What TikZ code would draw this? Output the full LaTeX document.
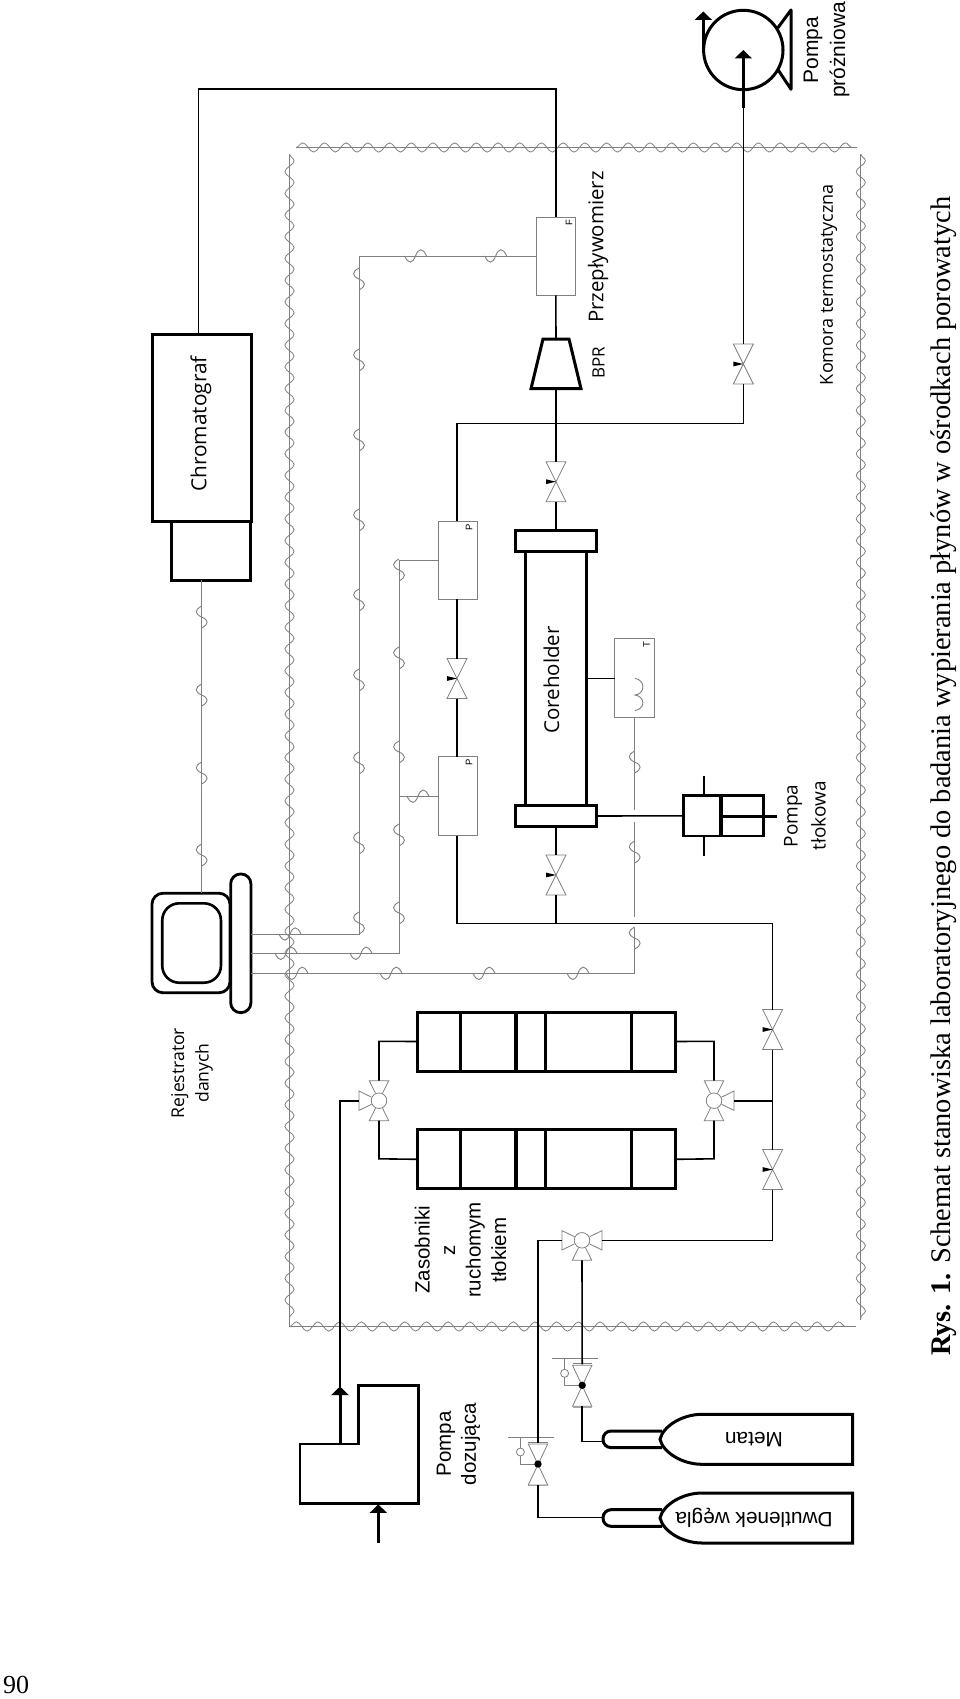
\documentclass[tikz,border=0pt]{standalone}
\usepackage{fontspec}
\setmainfont{Liberation Serif}
\newfontfamily\arial{Liberation Sans}
\newfontfamily\osans{Open Sans}
\usetikzlibrary{arrows.meta,decorations.pathmorphing,calc}
\definecolor{sig}{gray}{0.5}
\definecolor{vgray}{gray}{0.5}
\tikzset{
  pipe/.style={draw=black,line width=1.6pt},
  signal/.style={draw=sig,line width=0.9pt},
  heavy/.style={draw=black,line width=3pt},
  vline/.style={draw=vgray,line width=0.8pt,line join=miter},
  wavy/.style={draw=sig,line width=0.8pt,decorate,decoration={snake,segment length=21.7pt,amplitude=4.6pt,post length=0pt}},
  box/.style={rectangle,draw=sig,line width=0.8pt,inner sep=0pt,outer sep=0pt},
  hbox/.style={rectangle,heavy,inner sep=0pt,outer sep=0pt},
  vbody/.style={rectangle,inner sep=0pt,outer sep=0pt,minimum width=20pt,minimum height=40pt},
  bigarrow/.style={-{Triangle[length=8.5pt,width=17pt]},draw=black,line width=3pt},
  tos/.style={font=\osans\fontsize{#1}{#1}\selectfont,inner sep=0pt},
  tar/.style={font=\arial\fontsize{#1}{#1}\selectfont,inner sep=0pt},
}
\newcommand\valve[3]{%
  \node[vbody] (#1) at (#2,#3) {};
  \draw[vline] (#2-10,#3-20) -- (#2+10,#3-20) -- (#2-10,#3+20) -- (#2+10,#3+20) -- cycle;
  \fill[black] (#2,#3) -- (#2-10,#3-2.4) -- (#2-10,#3+2.4) -- cycle;
}
\newcommand\tway[4]{%
  \node[circle,vline,minimum size=15.5pt,inner sep=0pt,outer sep=0pt] (#1) at (#2,#3) {};
  \coordinate (#1-N) at (#2,#3-20);
  \coordinate (#1-S) at (#2,#3+20);
  \coordinate (#1-W) at (#2-20,#3);
  \coordinate (#1-E) at (#2+20,#3);
  \foreach \a in {#4} {
    \begin{scope}[shift={(#2,#3)},rotate=\a]
      \draw[vline] (7.6,-3.6) -- (20,-9.7) -- (20,9.7) -- (7.6,3.6);
    \end{scope}
  }
}
\newcommand\regul[3]{%
  \node[vbody,minimum height=42pt] (#1) at (#2,#3) {};
  \draw[vline] (#2-9.7,#3-20) -- (#2+9.7,#3-20) -- (#2-9.7,#3+21) -- (#2+9.7,#3+21) -- cycle;
  \draw[vline] (#2-9.7,#3-22) -- (#2+9.7,#3-22);
  \draw[draw=gray!70,line width=1.6pt] (#2-9.7,#3+21.5) -- (#2+9.7,#3+21.5);
  \draw[vline] (#2-30,#3-27) -- (#2+16,#3-27);
  \draw[vline] (#2-17.6,#3-27) -- (#2-17.6,#3-16);
  \draw[vline] (#2-17.6,#3-12) circle (4);
  \draw[vline] (#2-17.6,#3-8) -- (#2-17.6,#3) -- (#2,#3);
  \fill[black] (#2,#3) circle (3.7);
}
\newcommand\hbump[2]{\draw[signal] (#1-11,#2) .. controls (#1-7,#2+8.5) and (#1-3,#2+8) .. (#1,#2) .. controls (#1+3,#2-8) and (#1+7,#2-8.5) .. (#1+11,#2);}
\newcommand\vbump[2]{\draw[signal] (#1,#2-11) .. controls (#1-7.5,#2-7) and (#1-7,#2-3) .. (#1,#2) .. controls (#1+7,#2+3) and (#1+7.5,#2+7) .. (#1,#2+11);}
\newcommand\bottle[4]{%
  \coordinate (#1) at (603,#3);
  \draw[heavy,rounded corners=8pt] (662,#2-8.3) -- (603,#2-8.3) -- (603,#2+8.3) -- (662,#2+8.3);
  \draw[heavy,fill=white,line join=miter] (852.5,#2-25) -- (702,#2-25) .. controls (682,#2-25) and (663,#2-13) .. (660,#2) .. controls (663,#2+13) and (682,#2+25) .. (702,#2+25) -- (852.5,#2+25) -- cycle;
  \node[tar=20.8,rotate=180] (#1txt) at (754,#2) {#4};
}
\newcommand\tank[2]{%
  \node[hbox,minimum width=257.7pt,minimum height=59pt] (#1) at (546.2,#2) {};
  \foreach \xx/\ww in {460.6/2.6,516/3.4,545.5/3.4,631.6/3} {\draw[draw=black,line width=\ww pt] (\xx,#2-29.5) -- (\xx,#2+29.5);}
}
\begin{document}
\begin{tikzpicture}[x=1pt,y=-1pt]
\useasboundingbox (0,0) rectangle (960,1699);
\fill[white] (0,0) rectangle (960,1699);

%% thermostatic chamber
\coordinate (chTL) at (296,147.5);
\coordinate (chTR) at (857,147.5);
\coordinate (chLT) at (289.5,154);
\coordinate (chLB) at (289.5,1326.5);
\coordinate (chBR) at (855.5,1326.5);
\coordinate (chRT) at (860.8,154);
\coordinate (chRB) at (860.8,1320);
\draw[signal,line width=0.8pt] (chTL) -- (chTR);
\draw[wavy] (chTL) -- (chTR);
\draw[signal,line width=0.8pt] (chLT) -- (chLB) -- (chBR);
\draw[wavy] (chLT) -- (chLB);
\draw[wavy] (chLB) -- (chBR);
\draw[signal,line width=0.8pt] (chRT) -- (chRB);
\draw[wavy] (chRT) -- (chRB);

%% instruments
\node[hbox,minimum width=99pt,minimum height=187pt] (Chrom) at (201.5,427.5) {};
\node[hbox,minimum width=79.5pt,minimum height=59pt] (ChromB) at (211.2,550.5) {};
\node[tos=20.8,rotate=90] (tChrom) at (201,424) {Chromatograf};
\node[box,minimum width=39.5pt,minimum height=78.5pt] (F) at (555.8,256.2) {};
\node[tar=9.5,rotate=90] (tF) at (569,222.5) {F};
\node[box,minimum width=39pt,minimum height=78.5pt] (P1) at (457.5,560.2) {};
\node[tar=9.5,rotate=90] (tP1) at (469,527) {P};
\node[box,minimum width=39pt,minimum height=79pt] (P2) at (457.5,796.2) {};
\node[tar=9.5,rotate=90] (tP2) at (469,762.5) {P};
\node[box,minimum width=40pt,minimum height=79pt] (T) at (634.7,677.8) {};
\node[tar=9.5,rotate=90] (tT) at (646.7,644.3) {T};
\draw[draw=sig,line width=0.9pt] (635,678.3) .. controls (645.5,680) and (645.5,694) .. (635,695) .. controls (645.5,696.5) and (645.5,709) .. (635,710.5);

%% BPR
\coordinate (BPRt) at (556,339);
\coordinate (BPRb) at (556,389);
\draw[draw=black,line width=3pt,line join=miter] (543,339) -- (569,339) -- (581,388.7) -- (531,388.7) -- cycle;
\draw[draw=black,line width=1.5pt] (543,338.5) -- (569,338.5);

%% coreholder
\node[hbox,minimum width=81pt,minimum height=21pt] (CapT) at (556,540.5) {};
\node[hbox,minimum width=81pt,minimum height=21pt] (CapB) at (556,815.5) {};
\draw[heavy] (525.5,551) -- (525.5,805);
\draw[heavy] (586.3,551) -- (586.3,805);
\node[tos=20.5,rotate=90] (tCore) at (551.4,680) {Coreholder};

%% piston pump
\node[rectangle,draw=black,line width=2.6pt,minimum width=79.7pt,minimum height=40.3pt,inner sep=0pt,outer sep=0pt] (PP) at (723.5,815.8) {};
\draw[draw=black,line width=4pt] (721.3,795.7) -- (721.3,836);
\draw[draw=black,line width=3pt] (721.3,816) -- (776.5,816);
\draw[draw=black,line width=2.4pt] (703.8,775.7) -- (703.8,795.7);
\draw[draw=black,line width=2.4pt] (703.8,836) -- (703.8,856);

%% computer
\node[rectangle,draw=black,line width=2.8pt,rounded corners=11pt,minimum width=78pt,minimum height=99.5pt,inner sep=0pt,outer sep=0pt] (Mon) at (191,943) {};
\node[rectangle,draw=black,line width=2.6pt,rounded corners=17pt,minimum width=58.7pt,minimum height=79.4pt,inner sep=0pt,outer sep=0pt] (Scr) at (191.6,943) {};
\node[rectangle,draw=black,line width=2.8pt,rounded corners=10pt,minimum width=20.3pt,minimum height=138.7pt,inner sep=0pt,outer sep=0pt] (Stand) at (240.8,943.3) {};
\coordinate (st1) at (251,934);
\coordinate (st2) at (251,953.3);
\coordinate (st3) at (251,973.3);

%% tanks
\tank{TankA}{1041.5}
\tank{TankB}{1159.3}

%% valves
\valve{vOut}{556}{481.7}
\valve{vIn}{556}{875}
\valve{vP}{457}{678.5}
\valve{vVac}{743.3}{364}
\valve{vFeed}{772.6}{1029.5}
\valve{vGas}{772.6}{1169.5}
\tway{twR}{714}{1100.7}{0,90,270}
\tway{twL}{379}{1100.7}{90,180,270}
\tway{twG}{582}{1240.3}{0,180,270}
\regul{rM}{582.2}{1385.3}
\regul{rD}{538}{1464}

%% dosing pump
\coordinate (dozOut) at (340,1444);
\coordinate (dozTip) at (340,1386.5);
\coordinate (dozInA) at (378.3,1543.4);
\coordinate (dozInB) at (378.3,1504.4);
\draw[draw=black,line width=2.8pt,line join=miter] (300,1444) -- (358.8,1444) -- (358.8,1385.4) -- (418.1,1385.4) -- (418.1,1503.3) -- (300,1503.3) -- cycle;
\draw[bigarrow] (dozOut) -- (dozTip);
\draw[bigarrow] (dozInA) -- (dozInB);

%% vacuum pump
\node[circle,draw=black,line width=3pt,minimum size=79.4pt,inner sep=0pt,outer sep=0pt] (Vac) at (743.3,50) {};
\draw[draw=black,line width=3pt,line join=round] (777.7,28) -- (791,10) -- (791,89.3) -- (777.7,69.3);
\coordinate (vacIn) at (743.3,108);
\coordinate (vacTip) at (743.3,50);
\coordinate (vacEx) at (703.3,50);
\coordinate (vacExTip) at (703.3,11.5);
\draw[bigarrow] (vacIn) -- (vacTip);
\draw[bigarrow] (vacEx) -- (vacExTip);

%% bottles
\bottle{nM}{1439.3}{1441.5}{Metan}
\bottle{nD}{1518}{1517.6}{Dwutlenek węgla}

%% pipes
\coordinate (cTop) at (300,89);
\draw[pipe] ([xshift=-3pt]Chrom.north) |- (cTop) -| (F.north);
\draw[pipe] (F.south) -- (BPRt);
\draw[pipe] (BPRb) -- (vOut.north);
\draw[pipe] (vOut.south) -- (CapT.north);
\coordinate (jV) at (600,423.3);
\draw[pipe] ([xshift=-0.5pt]P1.north) |- (jV) -| (vVac.south);
\draw[pipe] (vVac.north) -- (vacIn);
\draw[pipe] ([xshift=-0.5pt]P1.south) -- (vP.north);
\draw[pipe] (vP.south) -- ([xshift=-0.5pt]P2.north);
\draw[pipe] (CapB.south) -- (vIn.north);
\coordinate (jB) at (556,923.3);
\draw[pipe] (vIn.south) -- (jB);
\draw[pipe] ([xshift=-0.5pt]P2.south) |- (jB) -| (vFeed.north);
\draw[pipe] (vFeed.south) -- (vGas.north);
\coordinate (jT) at (772.6,1100.7);
\draw[pipe] (jT) -- (twR-E);
\draw[pipe] (vGas.south) |- (twG-E);
\coordinate (aR) at (714,1041.3);
\coordinate (bR) at (714,1158.8);
\coordinate (aL) at (379,1041.3);
\coordinate (bL) at (379,1158.8);
\draw[pipe] (twR-N) -- (aR) -- (TankA.east);
\draw[pipe] (twR-S) -- (bR) -- (TankB.east);
\draw[pipe] (twL-N) -- (aL) -- (TankA.west);
\draw[pipe] (twL-S) -- (bL) -- (TankB.west);
\coordinate (dL) at (340,1100.7);
\draw[pipe] (dozTip) -- (dL) -- (twL-W);
\coordinate (gL) at (538,1240.3);
\draw[pipe] (twG-W) -- (gL) -- (rD.north);
\draw[pipe] (twG-S) -- (rM.north);
\coordinate (cM) at (582.2,1441.5);
\coordinate (cD) at (538,1517.6);
\draw[pipe] (rM.south) -- (cM) -- (nM);
\draw[pipe] (rD.south) -- (cD) -- (nD);
\coordinate (tCo) at (586.3,678.3);
\draw[pipe] (tCo) -- (T.west |- tCo);
\draw[pipe] (CapB.east |- 0,816) -- (PP.west);

%% signal lines
\coordinate (sa) at (359,934);
\coordinate (sb) at (399,953.3);
\coordinate (sb2) at (399,796.2);
\coordinate (sc) at (634.7,973.3);
\coordinate (g1) at (634.7,810);
\coordinate (g2) at (634.7,822.3);
\coordinate (g3) at (634.7,916.7);
\coordinate (g4) at (634.7,928.3);
\draw[signal] (F.west) -| (sa) -- (st1);
\draw[signal] (P1.west) -| (sb) -- (st2);
\draw[signal] (P2.west) -- (sb2);
\draw[signal] (T.south) -- (g1);
\draw[signal] (g2) -- (g3);
\draw[signal] (g4) -- (sc) -- (st3);
\draw[signal] (ChromB.south -| 201.7,0) -- (Mon.north -| 201.7,0);
\foreach \p in {415.5,495.7} {\hbump{\p}{255.9}}
\foreach \p in {279,360,440,520,600,680,763,843,923} {\vbump{359}{\p}}
\foreach \p in {570,658,752,835,913} {\vbump{399}{\p}}
\hbump{418}{796.2}
\foreach \p in {361,286} {\hbump{\p}{953.3}}
\hbump{290}{934}
\foreach \p in {297,391,484,578} {\hbump{\p}{973.3}}
\foreach \p in {762,852,938} {\vbump{634.7}{\p}}
\foreach \p in {617,695,773,855} {\vbump{201.7}{\p}}

%% labels
\node[tos=20.4,rotate=90] (tPrz) at (598,247) {Przepływomierz};
\node[tos=17,rotate=90] (tBPR) at (598.6,363) {BPR};
\node[tos=18,rotate=90] (tKom) at (828.5,284.5) {Komora termostatyczna};
\node[tos=19,rotate=90,align=center,font=\osans\fontsize{19}{28}\selectfont] (tPtl) at (805,816) {Pompa\\tłokowa};
\node[tos=17.6,rotate=90,align=center,font=\osans\fontsize{17.6}{24.5}\selectfont] (tRej) at (192,1073) {Rejestrator\\danych};
\node[tar=21,rotate=90,align=center,font=\arial\fontsize{21}{27}\selectfont] (tVac) at (826.5,50) {Pompa\\próżniowa};
\node[tar=20.5,rotate=90,align=center,font=\arial\fontsize{20.5}{25}\selectfont] (tDoz) at (458.5,1444) {Pompa\\dozująca};
\node[tar=20.5,rotate=90,align=center,font=\arial\fontsize{20.5}{25.5}\selectfont] (tZas) at (460.5,1250) {Zasobniki\\z\\ruchomym\\tłokiem};
\node[rotate=90,anchor=base west,inner sep=0pt,font=\fontsize{28.4}{28.4}\selectfont] (cap) at (950,1356) {\textbf{Rys. 1.} Schemat stanowiska laboratoryjnego do badania wypierania płynów w ośrodkach porowatych};
\node[inner sep=0pt,font=\fontsize{26}{26}\selectfont] (pg) at (16,1685) {90};
\end{tikzpicture}
\end{document}
